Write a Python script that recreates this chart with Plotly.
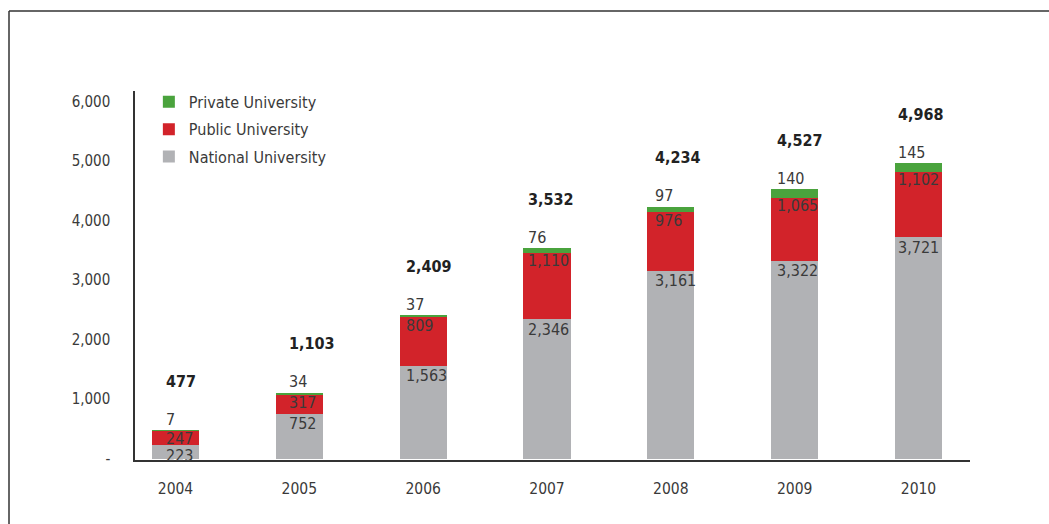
import plotly.graph_objects as go

years = ["2004", "2005", "2006", "2007", "2008", "2009", "2010"]
national = [223, 752, 1563, 2346, 3161, 3322, 3721]
public = [247, 317, 809, 1110, 976, 1065, 1102]
private = [7, 34, 37, 76, 97, 140, 145]
totals = [477, 1103, 2409, 3532, 4234, 4527, 4968]

y_tickvals = [0, 1000, 2000, 3000, 4000, 5000, 6000]
y_ticktext = ["-", "1,000", "2,000", "3,000", "4,000", "5,000", "6,000"]

# styling
C_NAT = "#b1b2b5"
C_PUB = "#d2232a"
C_PRI = "#4aa33d"
TXT = "#3a3a3a"
FONT = "DejaVu Sans Condensed, Liberation Sans Narrow, sans-serif"
label_dx = [12, 11, 4, 3, 6, 4, 1]  # px offset of labels from bar left edge
BAR_W = 0.38
BAR_PX = 47

fig = go.Figure()
for name, vals, col, rank in [("National University", national, C_NAT, 3),
                              ("Public University", public, C_PUB, 2),
                              ("Private University", private, C_PRI, 1)]:
    fig.add_trace(go.Bar(x=years, y=vals, name=name, marker=dict(color=col, line=dict(width=0)),
                         width=BAR_W, legendgroup=name, legendrank=rank))

ann = []
for i, yr in enumerate(years):
    xs = -BAR_PX / 2 + label_dx[i]
    t_nat = national[i]
    t_pub = national[i] + public[i]
    t_pri = t_pub + private[i]
    for yv, txt, ysh, bold in [(t_nat, f"{national[i]:,}", -10, False),
                               (t_pub, f"{public[i]:,}", -8, False),
                               (t_pri, f"{private[i]:,}", 11, False),
                               (t_pri, f"{totals[i]:,}", 49, True)]:
        ann.append(dict(x=i, y=yv, xref="x", yref="y", text=(f"<b>{txt}</b>" if bold else txt),
                        showarrow=False, xanchor="left", yanchor="middle", xshift=xs, yshift=ysh,
                        font=dict(family=FONT, size=16, color="#222" if bold else TXT)))

# frame (top and left edges visible)
L, R, T, B = 135, 970, 91, 460
pw, ph = R - L, B - T
fx0 = (9 - L) / pw
fy0 = (B - 11) / ph
shapes = [
    dict(type="line", xref="paper", yref="paper", x0=fx0, x1=(1060 - L) / pw, y0=fy0, y1=fy0,
         line=dict(color="#333", width=1.5)),
    dict(type="line", xref="paper", yref="paper", x0=fx0, x1=fx0, y0=fy0, y1=(B - 540) / ph,
         line=dict(color="#333", width=1.5)),
]

fig.update_layout(
    width=1049, height=524,
    margin=dict(l=L, r=1049 - R, t=T, b=524 - B),
    barmode="stack",
    plot_bgcolor="white", paper_bgcolor="white",
    font=dict(family=FONT, size=16, color=TXT),
    annotations=ann,
    shapes=shapes,
    legend=dict(x=0.0166, y=1.0164, xanchor="left", yanchor="top", traceorder="grouped",
                tracegroupgap=3.5, font=dict(family=FONT, size=16, color=TXT), bgcolor="rgba(0,0,0,0)"),
    xaxis=dict(type="category", range=[-0.327, 6.416], showline=True, linecolor="#333", linewidth=1.5,
               ticks="", showgrid=False, ticklabelstandoff=14,
               tickfont=dict(family=FONT, size=15.5, color=TXT)),
    yaxis=dict(range=[-25, 6180], showline=True, linecolor="#333", linewidth=1.5,
               tickvals=y_tickvals, ticktext=y_ticktext, showgrid=False, zeroline=False,
               ticks="", ticklabelstandoff=20, tickfont=dict(family=FONT, size=15, color=TXT)),
)

fig.write_html("out.html", config={"displayModeBar": False},
               post_script="document.body.style.margin='0';")
